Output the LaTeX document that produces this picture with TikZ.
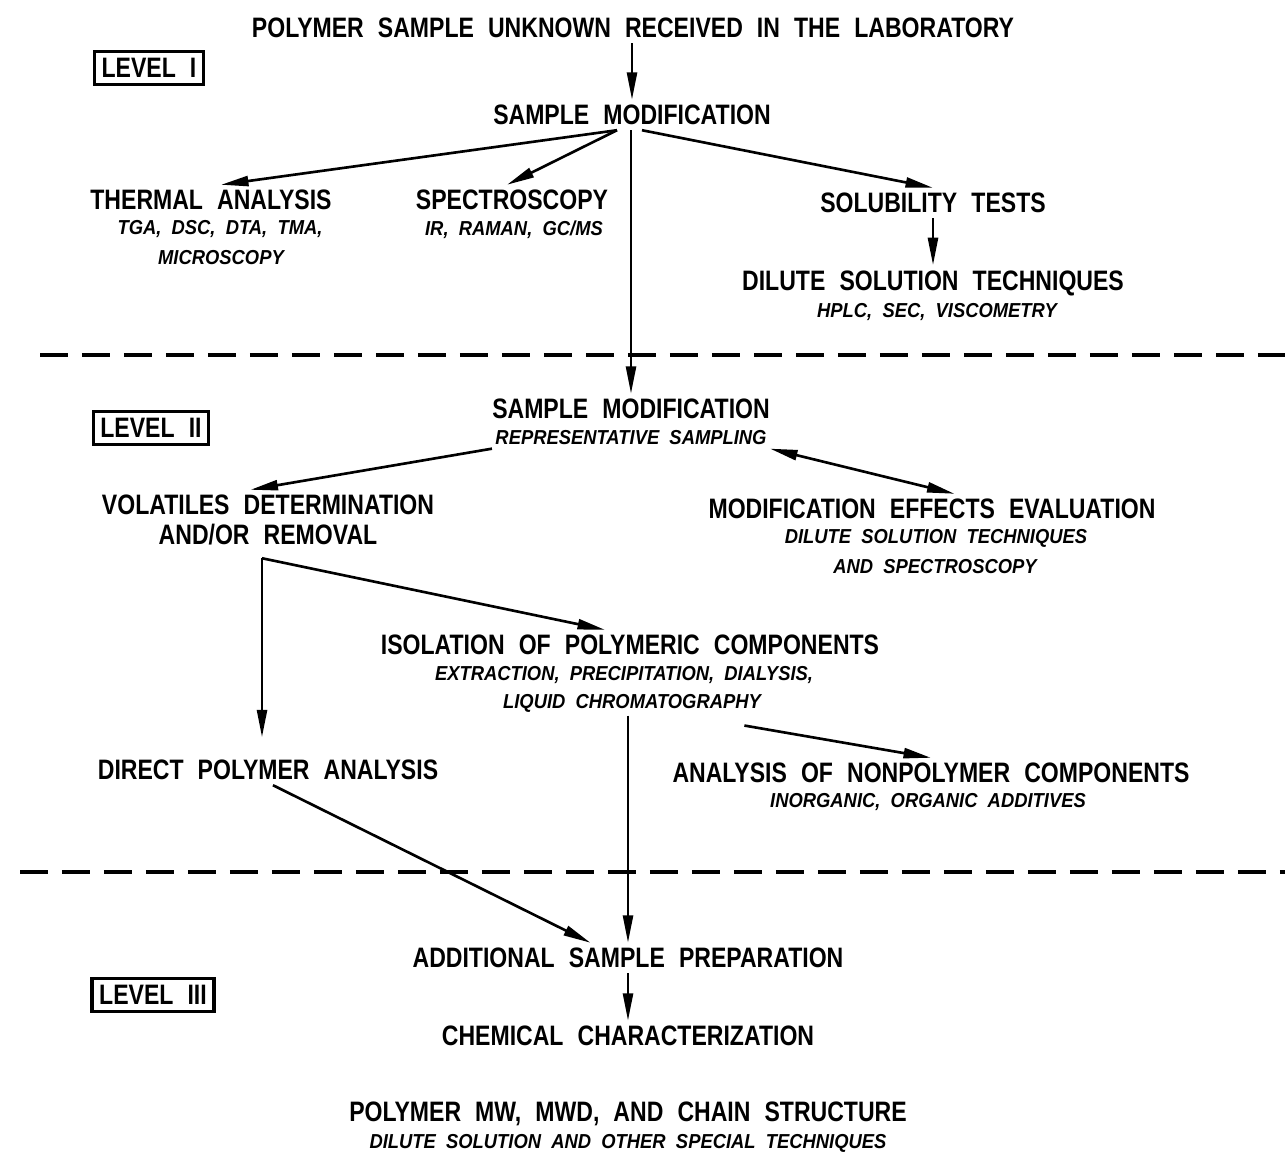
\documentclass[tikz,border=0pt]{standalone}
\usepackage{fontspec}
\newfontfamily\mainf[FakeStretch=0.82,WordSpace=2.2]{Liberation Sans}
\newfontfamily\subf[FakeStretch=0.91,WordSpace=2]{Liberation Sans}
\usetikzlibrary{arrows.meta}
\begin{document}
\begin{tikzpicture}[x=0.02cm,y=-0.02cm,
 mt/.style={font=\mainf\bfseries\fontsize{16}{18}\selectfont, inner sep=0pt, outer sep=3pt},
 st/.style={font=\subf\bfseries\itshape\fontsize{11.5}{13}\selectfont, inner sep=0pt, outer sep=2pt},
 arr/.style={line width=1.5pt, -{Triangle[length=0.55cm,width=0.2cm]}},
 darr/.style={line width=1.5pt, {Triangle[length=0.55cm,width=0.2cm]}-{Triangle[length=0.55cm,width=0.2cm]}},
 sepline/.style={line width=1.9pt, dash pattern=on 0.56cm off 0.28cm},
 lvl/.style={draw, line width=2pt, font=\mainf\bfseries\fontsize{16}{18}\selectfont, inner xsep=4pt, inner ysep=4pt}]
\useasboundingbox (0,0) rectangle (1285,1156);
% Level I
\node[mt] (title) at (633,28) {POLYMER SAMPLE UNKNOWN RECEIVED IN THE LABORATORY};
\node[lvl] (l1) at (149,68) {LEVEL I};
\node[mt] (sm1) at (632,115) {SAMPLE MODIFICATION};
\node[mt] (thermal) at (211,200) {THERMAL ANALYSIS};
\node[st] (thermalA) at (220,229) {TGA, DSC, DTA, TMA,};
\node[st] (thermalB) at (221,258) {MICROSCOPY};
\node[mt] (spec) at (512,200) {SPECTROSCOPY};
\node[st] (specA) at (514,230) {IR, RAMAN, GC/MS};
\node[mt] (sol) at (933,203) {SOLUBILITY TESTS};
\node[mt] (dil) at (933,283) {DILUTE SOLUTION TECHNIQUES};
\node[st] (dilA) at (937,312) {HPLC, SEC, VISCOMETRY};
% Level II
\node[lvl] (l2) at (151,428) {LEVEL II};
\node[mt] (sm2) at (631,409) {SAMPLE MODIFICATION};
\node[st] (sm2A) at (631,438) {REPRESENTATIVE SAMPLING};
\node[mt] (vol) at (268,505) {VOLATILES DETERMINATION};
\node[mt] (volB) at (268,535) {AND/OR REMOVAL};
\node[mt] (mod) at (932,509) {MODIFICATION EFFECTS EVALUATION};
\node[st] (modA) at (936,538) {DILUTE SOLUTION TECHNIQUES};
\node[st] (modB) at (935,567) {AND SPECTROSCOPY};
\node[mt] (iso) at (630,645) {ISOLATION OF POLYMERIC COMPONENTS};
\node[st] (isoA) at (624,675) {EXTRACTION, PRECIPITATION, DIALYSIS,};
\node[st] (isoB) at (632,703) {LIQUID CHROMATOGRAPHY};
\node[mt] (direct) at (268,770) {DIRECT POLYMER ANALYSIS};
\node[mt] (nonp) at (931,773) {ANALYSIS OF NONPOLYMER COMPONENTS};
\node[st] (nonpA) at (928,802) {INORGANIC, ORGANIC ADDITIVES};
% Level III
\node[mt] (add) at (628,958) {ADDITIONAL SAMPLE PREPARATION};
\node[lvl] (l3) at (153,995) {LEVEL III};
\node[mt] (chem) at (628,1036) {CHEMICAL CHARACTERIZATION};
\node[mt] (mw) at (628,1114) {POLYMER MW, MWD, AND CHAIN STRUCTURE};
\node[st] (mwA) at (628,1143) {DILUTE SOLUTION AND OTHER SPECIAL TECHNIQUES};
% separators
\draw[sepline] (40,355) -- (1285,355);
\draw[sepline] (20,872) -- (1285,872);
% connectors level I
\draw[arr] (title.south -| sm1.north) -- (sm1.north);
\draw[arr] ([xshift=-0.3cm]sm1.south) -- ([xshift=0.2cm]thermal.north);
\draw[arr] ([xshift=-0.3cm]sm1.south) -- ([xshift=-0.1cm]spec.north);
\draw[arr] ([xshift=0.2cm]sm1.south) -- (sol.north);
\draw[arr] (sol.south) -- (dil.north);
\draw[arr] (sm1.south -| sm2.north) -- (sm2.north);
% connectors level II
\draw[arr] (sm2A.south west) -- ([xshift=-0.35cm]vol.north);
\draw[darr] (sm2A.south east) -- ([xshift=0.45cm]mod.north);
\coordinate (br) at ([xshift=-0.12cm,yshift=-0.15cm]volB.south);
\draw[arr] (br) -- ([xshift=-0.5cm]iso.north);
\draw[arr] (br) -- ([yshift=0.35cm]br |- direct.north);
\draw[arr] ([xshift=-0.4cm,yshift=-0.2cm]isoB.south east) -- (nonp.north);
\draw[arr] (isoB.south -| add.north) -- (add.north);
\draw[arr] ([xshift=0.1cm]direct.south) -- ([xshift=-0.75cm]add.north);
% level III
\draw[arr] (add.south) -- (chem.north);
\end{tikzpicture}
\end{document}
